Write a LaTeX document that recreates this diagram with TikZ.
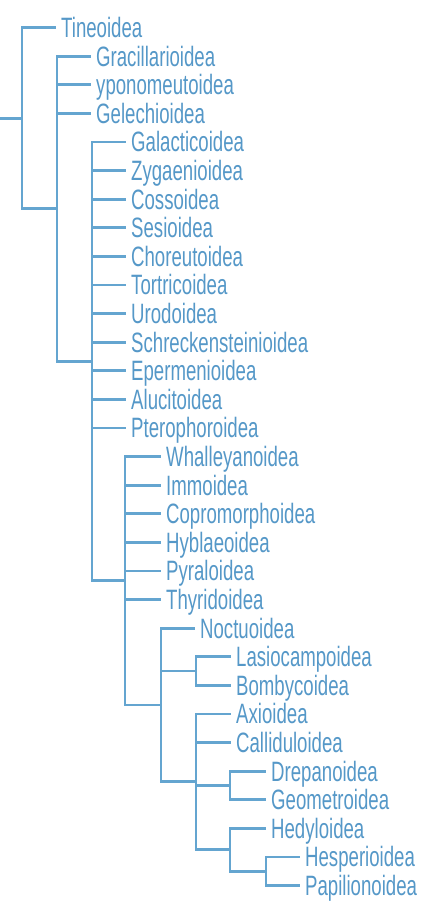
\documentclass[tikz,border=0pt]{standalone}
\usepackage{fontspec}
\setmainfont{Liberation Sans}[FakeStretch=0.665]
\definecolor{txt}{RGB}{85,152,200}
\definecolor{ln}{RGB}{100,165,208}
\begin{document}
\begin{tikzpicture}[x=1pt,y=-1pt,
  leaf/.style={anchor=west, inner xsep=5pt, inner ysep=0pt, text height=20pt, text depth=0pt,
    text=txt, font=\fontsize{28}{32}\selectfont},
  branch/.style={draw=ln, line width=2.8pt, line join=miter}]
\useasboundingbox (0,0) rectangle (421,903);
\fill[white] (0,0) rectangle (421,903);
% leaves
\foreach \nm/\i/\tx in {Tineoidea/0/61,
  Gracillarioidea/1/96, yponomeutoidea/2/96, Gelechioidea/3/96,
  Galacticoidea/4/131, Zygaenioidea/5/131, Cossoidea/6/131, Sesioidea/7/131,
  Choreutoidea/8/131, Tortricoidea/9/131, Urodoidea/10/131, Schreckensteinioidea/11/131,
  Epermenioidea/12/131, Alucitoidea/13/131, Pterophoroidea/14/131,
  Whalleyanoidea/15/166, Immoidea/16/166, Copromorphoidea/17/166, Hyblaeoidea/18/166,
  Pyraloidea/19/166, Thyridoidea/20/166,
  Noctuoidea/21/200, Lasiocampoidea/22/236, Bombycoidea/23/236,
  Axioidea/24/236, Calliduloidea/25/236, Drepanoidea/26/271, Geometroidea/27/271,
  Hedyloidea/28/271, Hesperioidea/29/305, Papilionoidea/30/305}
  \node[leaf] (\nm) at ({\tx-5},{27.5+28.6*\i}) {\nm};
% internal nodes
\coordinate (base) at (0,118.1);
\coordinate (r) at (22,118.1);
\coordinate (n1) at (57,208.7);
\coordinate (n2) at (92,361.3);
\coordinate (n3) at (125,580.7);
\coordinate (n4) at (161,705);
\coordinate (n5) at (196,671);
\coordinate (n6) at (196,781.8);
\coordinate (n7) at (230,785.4);
\coordinate (n8) at (230,849.75);
\coordinate (n9) at (266,871.2);
% connectors
\draw[branch] (base) -- (r);
\draw[branch] (r) |- (Tineoidea.west);
\draw[branch] (r) |- (n1);
\foreach \l in {Gracillarioidea, yponomeutoidea, Gelechioidea}
  \draw[branch] (n1) |- (\l.west);
\draw[branch] (n1) |- (n2);
\foreach \l in {Galacticoidea, Zygaenioidea, Cossoidea, Sesioidea, Choreutoidea,
  Tortricoidea, Urodoidea, Schreckensteinioidea, Epermenioidea, Alucitoidea, Pterophoroidea}
  \draw[branch] (n2) |- (\l.west);
\draw[branch] (n2) |- (n3);
\foreach \l in {Whalleyanoidea, Immoidea, Copromorphoidea, Hyblaeoidea, Pyraloidea, Thyridoidea}
  \draw[branch] (n3) |- (\l.west);
\draw[branch] (n3) |- (n4);
\draw[branch] (n4) |- (Noctuoidea.west);
\draw[branch] (n4) |- (n5);
\draw[branch] (n4) |- (n6);
\draw[branch] (n5) |- (Lasiocampoidea.west);
\draw[branch] (n5) |- (Bombycoidea.west);
\draw[branch] (n6) |- (Axioidea.west);
\draw[branch] (n6) |- (Calliduloidea.west);
\draw[branch] (n6) |- (n7);
\draw[branch] (n6) |- (n8);
\draw[branch] (n7) |- (Drepanoidea.west);
\draw[branch] (n7) |- (Geometroidea.west);
\draw[branch] (n8) |- (Hedyloidea.west);
\draw[branch] (n8) |- (n9);
\draw[branch] (n9) |- (Hesperioidea.west);
\draw[branch] (n9) |- (Papilionoidea.west);
\end{tikzpicture}
\end{document}
